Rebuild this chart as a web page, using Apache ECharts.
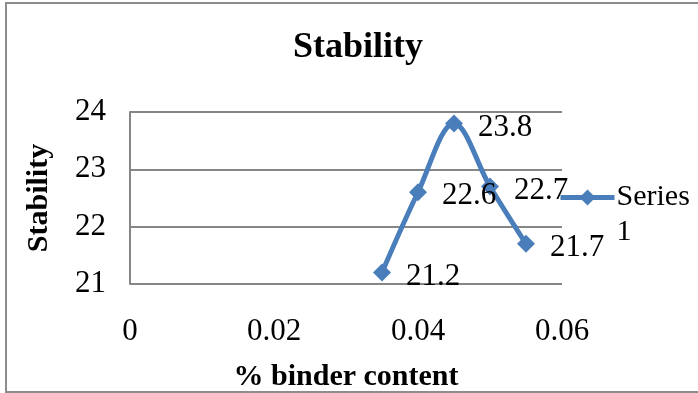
<!DOCTYPE html>
<html>
<head>
<meta charset="utf-8">
<script src="https://cdn.jsdelivr.net/npm/echarts@6/dist/echarts.min.js"></script>
<style>
html,body{margin:0;padding:0;background:#fff;}
#chart{width:698px;height:393px;}
</style>
</head>
<body>
<div id="chart"></div>
<script>
const binderContent = [0.035, 0.04, 0.045, 0.05, 0.055];
const stabilityValues = [21.2, 22.6, 23.8, 22.7, 21.7];
const seriesName = 'Series 1';
const titleText = 'Stability';
const xAxisName = '% binder content';
const yAxisName = 'Stability';

const FONT = '"Liberation Serif", "Times New Roman", serif';
const chart = echarts.init(document.getElementById('chart'), null, {renderer: 'canvas'});
chart.setOption({
  backgroundColor: '#fff',
  animation: false,
  title: {
    text: titleText,
    left: 353, top: 25, textAlign: 'center',
    textStyle: {fontFamily: FONT, fontWeight: 'bold', fontSize: 36, color: '#000'}
  },
  graphic: [{
    type: 'rect', silent: true,
    shape: {x: 6, y: 3, width: 700, height: 389},
    style: {fill: 'none', stroke: '#8c8c8c', lineWidth: 2}
  }],
  legend: {
    left: 553, top: 136,
    orient: 'vertical',
    itemWidth: 54, itemHeight: 20, itemGap: 4,
    lineStyle: {width: 5, color: '#4A7EBB'},
    itemStyle: {color: '#4A7EBB'},
    formatter: function(n){ return '\n' + n.replace(' ', '\n'); },
    textStyle: {fontFamily: FONT, fontSize: 30, color: '#000', lineHeight: 35, padding: [8,0,0,-3]},
    data: [{name: seriesName}]
  },
  grid: {left: 130, right: 136, top: 112, bottom: 107},
  xAxis: {
    type: 'value', min: 0, max: 0.06, interval: 0.02,
    name: xAxisName, nameLocation: 'middle', nameGap: 78,
    nameTextStyle: {fontFamily: FONT, fontWeight: 'bold', fontSize: 30, color: '#000'},
    axisLine: {show: false}, axisTick: {show: false},
    splitLine: {show: false},
    axisLabel: {fontFamily: FONT, fontSize: 31, color: '#000', margin: 32}
  },
  yAxis: {
    type: 'value', min: 21, max: 24, interval: 1,
    name: yAxisName, nameLocation: 'middle', nameGap: 76, nameRotate: 90,
    nameTextStyle: {fontFamily: FONT, fontWeight: 'bold', fontSize: 30, color: '#000'},
    axisLine: {show: true, lineStyle: {color: '#868686', width: 2}},
    axisTick: {show: false},
    splitLine: {show: true, lineStyle: {color: '#868686', width: 2}},
    axisLabel: {fontFamily: FONT, fontSize: 31, color: '#000', margin: 24}
  },
  series: [{
    name: seriesName,
    type: 'line',
    smooth: 0.35,
    data: binderContent.map((x, i) => [x, stabilityValues[i]]),
    symbol: 'diamond', symbolSize: 18,
    lineStyle: {color: '#4A7EBB', width: 5},
    itemStyle: {color: '#4A7EBB'},
    label: {
      show: true, position: 'right', distance: 15, offset: [0, 4],
      fontFamily: FONT, fontSize: 31, color: '#000',
      formatter: p => p.value[1].toFixed(1)
    }
  }]
});
</script>
</body>
</html>
